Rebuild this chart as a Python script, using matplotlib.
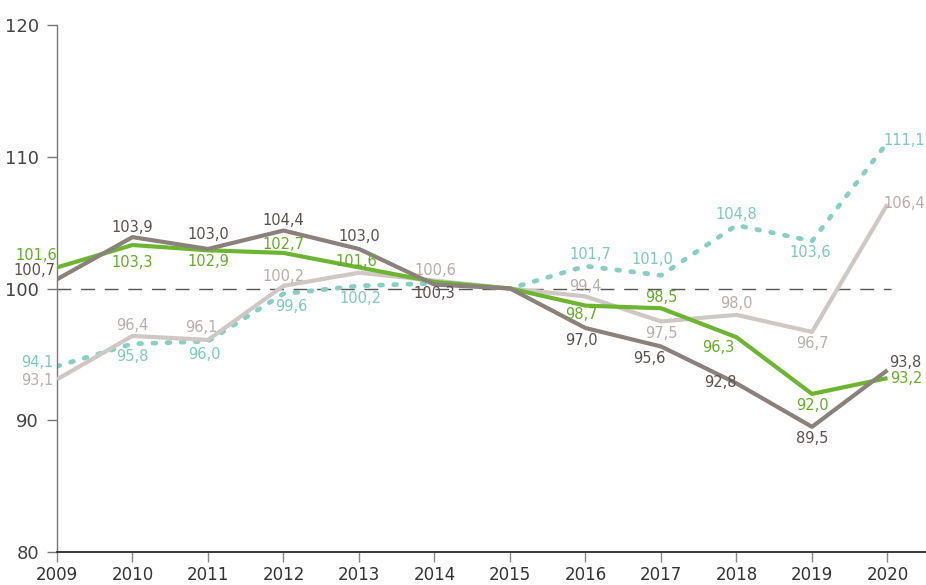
import numpy as np
import matplotlib
matplotlib.use('Agg')
from matplotlib import pyplot as plt

plt.rcParams['font.family'] = ['Liberation Sans Narrow', 'DejaVu Sans']

years = [2009, 2010, 2011, 2012, 2013, 2014, 2015, 2016, 2017, 2018, 2019, 2020]
taupe = [100.7, 103.9, 103.0, 104.4, 103.0, 100.3, 100.0, 97.0, 95.6, 92.8, 89.5, 93.8]
green = [101.6, 103.3, 102.9, 102.7, 101.6, 100.5, 100.0, 98.7, 98.5, 96.3, 92.0, 93.2]
beige = [93.1, 96.4, 96.1, 100.2, 101.2, 100.6, 100.0, 99.4, 97.5, 98.0, 96.7, 106.4]
teal = [94.1, 95.8, 96.0, 99.6, 100.2, 100.4, 100.0, 101.7, 101.0, 104.8, 103.6, 111.1]
yticks = [80, 90, 100, 110, 120]

# label offsets in pixels (dx, dy up), None = no label
taupe_off = [(-23, 9), (0, 10), (0, 14), (0, 10), (0, 12), (0, -9), None,
             (-4, -12), (-12, -12), (-16, 1), (0, -12), (18, 8)]
green_off = [(-21, 12), (0, -17), (0, -11), (0, 8), (-3, 6), None, None,
             (-4, -9), (0, 11), (-18, -10), (0, -12), (19, 0)]
beige_off = [(-20, -1), (0, 10), (-7, 12), (0, 9), None, (1, 10), None,
             (0, 10), (0, -12), (0, 11), (0, -12), (17, 1)]
teal_off = [(-20, 4), (0, -13), (-4, -13), (8, -13), (1, -13), None, None,
            (5, 12), (-9, 16), (0, 11), (-2, -11), (17, 2)]

fig = plt.figure(figsize=(9.26, 5.85), dpi=100)
ax = fig.add_axes([57 / 926, 1 - 552 / 585, 1 - 57 / 926, (552 - 25) / 585])

ax.hlines(100, 2009, 2020.05, colors='#555555', linestyles=(0, (10, 7)), lw=1, zorder=1)

series = [
    (teal, '#86cfc3', '#7ccabe', teal_off, dict(linestyle=(0, (0.6, 2.4)), dash_capstyle='round', lw=3.4)),
    (beige, '#cfc7c4', '#b8aeaa', beige_off, dict(lw=3)),
    (green, '#6cb531', '#64ad2a', green_off, dict(lw=3)),
    (taupe, '#8a807c', '#5a514e', taupe_off, dict(lw=3)),
]

for i, (vals, col, tcol, offs, kw) in enumerate(series):
    ax.plot(years, vals, color=col, zorder=2 + i, solid_capstyle='butt', **kw)
    for x, v, o in zip(years, vals, offs):
        if o is None:
            continue
        ax.annotate(f'{v:.1f}'.replace('.', ','), (x, v),
                    xytext=(o[0] * 0.72, o[1] * 0.72), textcoords='offset points',
                    ha='center', va='center', fontsize=10.5, color=tcol, zorder=10)

ax.set_xlim(2009, 2020.51)
ax.set_ylim(80, 120)
ax.set_xticks(years)
ax.set_xticklabels([str(y) for y in years])
ax.set_yticks(yticks)

for s in ['top', 'right']:
    ax.spines[s].set_visible(False)
ax.spines['left'].set_color('#777777')
ax.spines['left'].set_linewidth(1)
ax.spines['bottom'].set_color('#3a3a3a')
ax.spines['bottom'].set_linewidth(1.4)

ax.tick_params(axis='x', direction='out', length=7, width=1, color='#888888',
               labelsize=12, labelcolor='#333333', pad=3)
ax.tick_params(axis='y', direction='out', length=7, width=1, color='#777777',
               labelsize=13, labelcolor='#444444', pad=6)

fig.savefig('out.png', dpi=100)
